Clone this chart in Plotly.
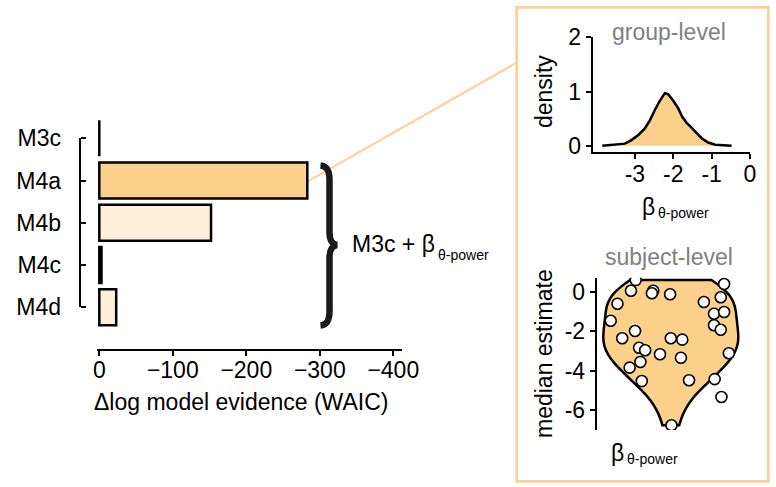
import plotly.graph_objects as go

W, H = 776, 487

# ---------------- data ----------------
models = ["M3c", "M4a", "M4b", "M4c", "M4d"]
delta_waic = [0, -283, -152, -3, -23]
main_ticks = [0, -100, -200, -300, -400]

beta_grid = [-3.85, -3.26, -3.09, -2.91, -2.74, -2.61, -2.48, -2.35, -2.22, -2.13,
             -2.0, -1.87, -1.77, -1.65, -1.52, -1.39, -1.26, -1.09, -0.91, -0.48]
group_density = [0.0, 0.04, 0.105, 0.20, 0.32, 0.47, 0.66, 0.83, 0.97, 0.95,
                 0.83, 0.69, 0.54, 0.42, 0.33, 0.23, 0.14, 0.06, 0.02, 0.0]
group_xticks = [-3, -2, -1, 0]
group_yticks = [0, 1, 2]

subject_median = [0.59, 0.05, 0.05, -0.08, -0.13, -0.61, -1.47, -1.99, -2.36, -2.84,
                  -2.97, -3.17, -2.36, -2.43, -3.35, -3.85, -3.56, -4.53, -4.49, -6.77,
                  0.39, -0.28, -0.52, -1.12, -1.03, -1.70, -1.93, -3.12, -4.43, -5.34]
subject_jitter = [-0.52, -0.59, -0.26, -0.28, -0.01, -0.79, -0.89, -0.53, -0.72, -0.47,
                  -0.38, -0.16, 0.00, 0.17, 0.15, -0.61, -0.45, -0.43, 0.27, 0.01,
                  0.79, 0.74, 0.49, 0.64, 0.79, 0.64, 0.74, 0.86, 0.65, 0.75]
subject_yticks = [0, -2, -4, -6]

# ---------------- styles ----------------
ORANGE = "#FBD08B"
LIGHT = "#FEEEDA"
BOX = "#FDD09A"
GRAY = "#808080"
FONT = "Liberation Sans, Arial, sans-serif"
FS = 23
SUBFS = 14

bar_fill = [LIGHT, ORANGE, LIGHT, LIGHT, LIGHT]


def X(px):
    return px / W


def Y(py):
    return 1 - py / H


# main chart pixel geometry
zero_px, mx1 = 99.3, 401.7       # position of 0 and right end of x axis (px)
px_per_unit = 0.735              # px per 1 WAIC unit
left_pad = 2.5                   # small headroom so bar outlines at 0 are not clipped
mx0 = zero_px - left_pad * px_per_unit
main_xmax = -(mx1 - zero_px) / px_per_unit
y_top_tick, y_bot_tick = 138.3, 307.3
y_step = (y_bot_tick - y_top_tick) / (len(models) - 1)
main_dom_top, main_dom_bot = 100.0, 349.0
ymin_val = (main_dom_top - y_top_tick) / y_step
ymax_val = (main_dom_bot - y_top_tick) / y_step

fig = go.Figure()

fig.add_trace(go.Bar(
    y=models, x=delta_waic, orientation="h",
    marker=dict(color=bar_fill, line=dict(color="black", width=2.5)),
    width=0.85, xaxis="x", yaxis="y", showlegend=False,
))
# invisible helper so the trimmed category-axis spine (yaxis2) is drawn
fig.add_trace(go.Scatter(
    x=[0], y=[0.5], mode="markers", marker=dict(opacity=0), hoverinfo="skip",
    xaxis="x", yaxis="y2", showlegend=False,
))

# group-level density
fig.add_trace(go.Scatter(
    x=beta_grid, y=group_density, mode="lines", fill="tozeroy",
    fillcolor=ORANGE, line=dict(color="black", width=2.5),
    xaxis="x3", yaxis="y3", showlegend=False,
))

# subject-level violin + points
fig.add_trace(go.Violin(
    y=subject_median, x0=0, width=2.0, scalemode="width", spanmode="hard",
    points=False, fillcolor=ORANGE, line=dict(color="black", width=2.5),
    box=dict(visible=False), meanline=dict(visible=False),
    xaxis="x4", yaxis="y4", showlegend=False, hoverinfo="skip",
))
fig.add_trace(go.Scatter(
    x=subject_jitter, y=subject_median, mode="markers",
    marker=dict(size=11, color="white", line=dict(color="black", width=1.6)),
    xaxis="x4", yaxis="y4", showlegend=False,
))

axis_common = dict(showgrid=False, zeroline=False, linecolor="black", linewidth=2,
                   tickcolor="black", tickwidth=2, ticklen=5, automargin=False,
                   tickfont=dict(family=FONT, size=FS, color="black"))

fig.update_layout(
    width=W, height=H,
    margin=dict(l=0, r=0, t=0, b=0, pad=0, autoexpand=False),
    paper_bgcolor="white", plot_bgcolor="rgba(0,0,0,0)",
    font=dict(family=FONT, size=FS, color="black"),
    showlegend=False,
    xaxis=dict(domain=[X(mx0), X(mx1)], range=[left_pad, main_xmax], anchor="y",
               tickvals=main_ticks, ticks="outside", showline=True,
               ticklabelstandoff=-6, **axis_common),
    yaxis=dict(domain=[Y(main_dom_bot), Y(main_dom_top)], type="category",
               categoryorder="array", categoryarray=models,
               range=[ymax_val, ymin_val], anchor="free", position=X(80),
               ticks="inside", showline=False, ticklabelstandoff=19, **axis_common),
    yaxis2=dict(domain=[Y(y_bot_tick), Y(y_top_tick)], anchor="free", position=X(80),
                showline=True, linecolor="black", linewidth=2, showticklabels=False,
                ticks="", showgrid=False, zeroline=False, range=[0, 1], automargin=False),
    xaxis3=dict(domain=[X(592.7), X(750)], range=[-4.1, 0], anchor="y3",
                tickvals=group_xticks, ticktext=[str(v) for v in group_xticks],
                ticks="outside", showline=True, ticklabelstandoff=-5, **axis_common),
    yaxis3=dict(domain=[Y(152.3), Y(37.3)], range=[-0.12, 2.0], anchor="x3",
                tickvals=group_yticks, ticktext=[str(v) for v in group_yticks],
                ticks="outside", showline=True, **axis_common),
    xaxis4=dict(domain=[X(596.7), X(760)], range=[-74.1 / 67.5, 89.2 / 67.5],
                anchor="y4", visible=False, automargin=False),
    yaxis4=dict(domain=[Y(430), Y(277.7)], range=[-7.01, 0.71], anchor="x4",
                tickvals=subject_yticks, ticktext=[str(v) for v in subject_yticks],
                ticks="outside", showline=True, **axis_common),
)

# connector line from M4a bar end to inset box
bar_end_px = zero_px + (-delta_waic[1]) * px_per_unit
bar_y_px = y_top_tick + 1 * y_step
shapes = [
    dict(type="line", xref="paper", yref="paper", x0=X(bar_end_px), y0=Y(bar_y_px + 1),
         x1=X(516.7), y1=Y(62.7), line=dict(color=BOX, width=2), layer="below"),
    dict(type="rect", xref="paper", yref="paper", x0=X(516.7), y0=Y(481.3),
         x1=X(768.3), y1=Y(7.3), line=dict(color=BOX, width=2.8), layer="below"),
]


def P(x, y):
    return f"{X(x):.5f},{Y(y):.5f}"


brace = ("M " + P(320.5, 165.5) +
         " C " + P(326.5, 166) + " " + P(329.5, 170) + " " + P(329.5, 180) +
         " L " + P(329.5, 232) +
         " C " + P(329.5, 240) + " " + P(331.5, 244) + " " + P(337, 245) +
         " C " + P(331.5, 246) + " " + P(329.5, 250) + " " + P(329.5, 258) +
         " L " + P(329.5, 311) +
         " C " + P(329.5, 321) + " " + P(326.5, 325) + " " + P(320.5, 325.5))
shapes.append(dict(type="path", xref="paper", yref="paper", path=brace,
                   line=dict(color="#1a1a1a", width=6.5), layer="above"))

fig.update_layout(shapes=shapes)


def ann(text, x, y, color="black", size=FS, angle=0, xanchor="center"):
    fig.add_annotation(text=text, x=X(x), y=Y(y), xref="paper", yref="paper",
                       showarrow=False, textangle=angle, xanchor=xanchor, yanchor="middle",
                       font=dict(family=FONT, size=size, color=color))


ann("Δlog model evidence (WAIC)", 241.3, 401.7)
ann("M3c + β", 350, 244, xanchor="left")
ann("θ-power", 436, 255, size=SUBFS, xanchor="left")
ann("group-level", 669, 32.5, color=GRAY)
ann("density", 543.3, 91.7, angle=-90)
ann("β", 648, 207)
ann("θ-power", 656, 213, size=SUBFS, xanchor="left")
ann("subject-level", 668.7, 256.7, color=GRAY)
ann("median estimate", 544, 354, angle=-90)
ann("β", 617.5, 453)
ann("θ-power", 624.5, 459, size=SUBFS, xanchor="left")

fig.write_html("out.html", config={"displayModeBar": False},
               post_script="document.body.style.margin='0px';")
